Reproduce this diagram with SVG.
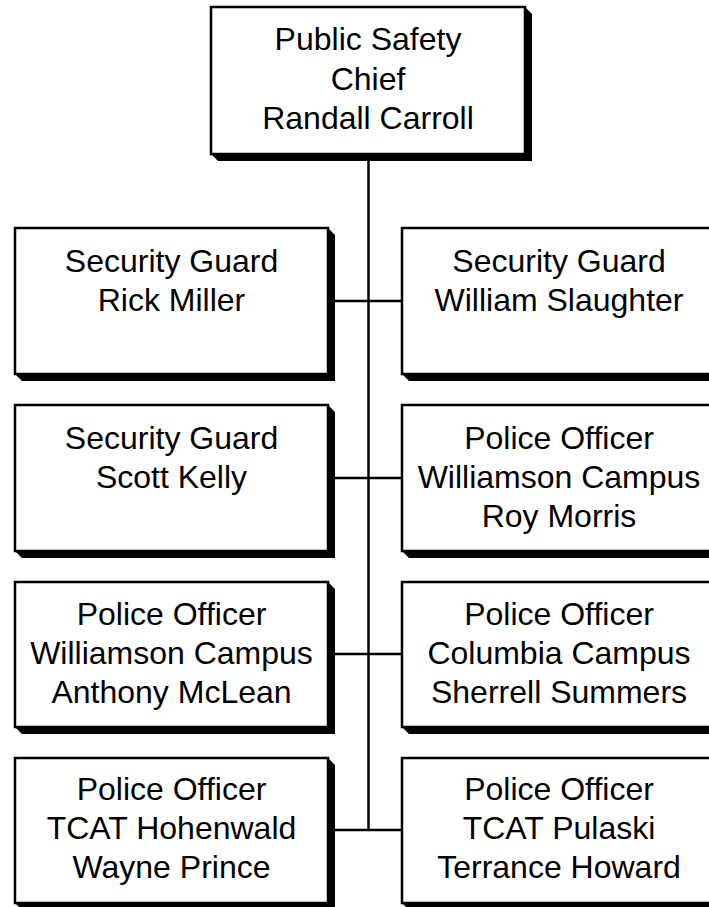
<svg xmlns="http://www.w3.org/2000/svg" width="709" height="907" viewBox="0 0 709 907">
<style>
.box{fill:#fff;stroke:#000;stroke-width:2.5}
.sh{fill:#000}
.t{font-family:"Liberation Sans",Arial,sans-serif;font-size:32px;fill:#000;text-anchor:middle}
.c{stroke:#000;stroke-width:2.5;fill:none}
</style>
<rect width="709" height="907" fill="#fff"/>
<g id="connectors">
<line class="c" x1="368.5" y1="154" x2="368.5" y2="831"/>
<line class="c" x1="334" y1="301" x2="402" y2="301"/>
<line class="c" x1="334" y1="478" x2="402" y2="478"/>
<line class="c" x1="334" y1="654" x2="402" y2="654"/>
<line class="c" x1="334" y1="830" x2="402" y2="830"/>
</g>
<g id="chief">
<polygon class="sh" points="525,7 532,14 532,161 218,161 211,154"/>
<rect class="box" x="211" y="7" width="314" height="147"/>
<text class="t" x="368" y="50">Public Safety</text>
<text class="t" x="368" y="90">Chief</text>
<text class="t" x="368" y="129">Randall Carroll</text>
</g>
<g id="rick-miller">
<polygon class="sh" points="328,228 335,235 335,381 22,381 15,374"/>
<rect class="box" x="15" y="228" width="313" height="146"/>
<text class="t" x="171.5" y="272">Security Guard</text>
<text class="t" x="171.5" y="311">Rick Miller</text>
</g>
<g id="william-slaughter">
<polygon class="sh" points="715,228 722,235 722,381 409,381 402,374"/>
<rect class="box" x="402" y="228" width="313" height="146"/>
<text class="t" x="559" y="272">Security Guard</text>
<text class="t" x="559" y="311">William Slaughter</text>
</g>
<g id="scott-kelly">
<polygon class="sh" points="328,405 335,412 335,558 22,558 15,551"/>
<rect class="box" x="15" y="405" width="313" height="146"/>
<text class="t" x="171.5" y="449">Security Guard</text>
<text class="t" x="171.5" y="488">Scott Kelly</text>
</g>
<g id="roy-morris">
<polygon class="sh" points="715,405 722,412 722,558 409,558 402,551"/>
<rect class="box" x="402" y="405" width="313" height="146"/>
<text class="t" x="559" y="449">Police Officer</text>
<text class="t" x="559" y="488">Williamson Campus</text>
<text class="t" x="559" y="527">Roy Morris</text>
</g>
<g id="anthony-mclean">
<polygon class="sh" points="328,582 335,589 335,734 22,734 15,727"/>
<rect class="box" x="15" y="582" width="313" height="145"/>
<text class="t" x="171.5" y="625">Police Officer</text>
<text class="t" x="171.5" y="664">Williamson Campus</text>
<text class="t" x="171.5" y="703">Anthony McLean</text>
</g>
<g id="sherrell-summers">
<polygon class="sh" points="715,582 722,589 722,734 409,734 402,727"/>
<rect class="box" x="402" y="582" width="313" height="145"/>
<text class="t" x="559" y="625">Police Officer</text>
<text class="t" x="559" y="664">Columbia Campus</text>
<text class="t" x="559" y="703">Sherrell Summers</text>
</g>
<g id="wayne-prince">
<polygon class="sh" points="328,758 335,765 335,910 22,910 15,903"/>
<rect class="box" x="15" y="758" width="313" height="145"/>
<text class="t" x="171.5" y="800">Police Officer</text>
<text class="t" x="171.5" y="839">TCAT Hohenwald</text>
<text class="t" x="171.5" y="878">Wayne Prince</text>
</g>
<g id="terrance-howard">
<polygon class="sh" points="715,758 722,765 722,910 409,910 402,903"/>
<rect class="box" x="402" y="758" width="313" height="145"/>
<text class="t" x="559" y="800">Police Officer</text>
<text class="t" x="559" y="839">TCAT Pulaski</text>
<text class="t" x="559" y="878">Terrance Howard</text>
</g>
</svg>
